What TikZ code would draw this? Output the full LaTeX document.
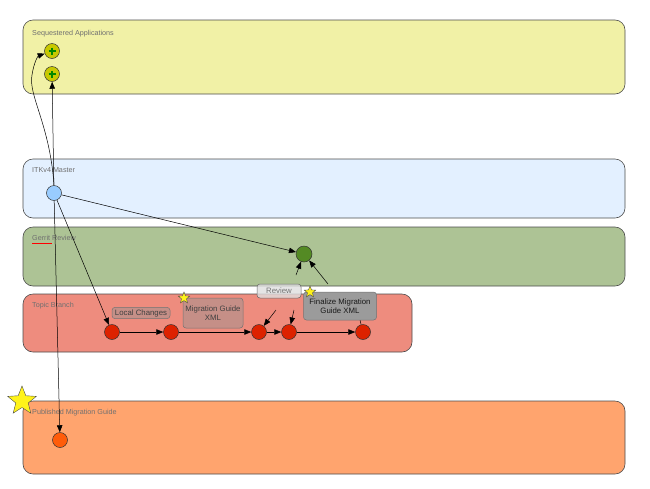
\documentclass[tikz,border=0pt]{standalone}
\usepackage{fontspec}
\setmainfont{Liberation Sans}
\usetikzlibrary{arrows.meta,shapes.geometric}

\definecolor{seqfill}{HTML}{F1F1A6}
\definecolor{masterfill}{HTML}{E3F0FF}
\definecolor{gerritfill}{HTML}{ADC395}
\definecolor{topicfill}{HTML}{EE8C7E}
\definecolor{pubfill}{HTML}{FFA46E}
\definecolor{lanetext}{HTML}{707070}
\definecolor{plusfill}{HTML}{C8C800}
\definecolor{plusgreen}{HTML}{008800}
\definecolor{masterdot}{HTML}{99CCFF}
\definecolor{gerritdot}{HTML}{548A24}
\definecolor{topicdot}{HTML}{DD2200}
\definecolor{pubdot}{HTML}{FF5C0A}
\definecolor{notefill}{HTML}{C58F87}
\definecolor{finalfill}{HTML}{9B9B9B}

\tikzset{
  lane/.style={draw=black!70,rounded corners=10pt,line width=0.6pt},
  lanelabel/.style={anchor=base west,text=lanetext,font=\fontsize{7.2}{8}\selectfont,inner sep=0pt},
  commit/.style={circle,draw=black!80,line width=0.5pt,minimum size=15pt,inner sep=0pt},
  note/.style={draw=black!55,rounded corners=3pt,line width=0.5pt,align=center,
    font=\fontsize{7.8}{9}\selectfont,inner sep=2pt,text=black!75},
  flow/.style={->,line width=0.5pt},
  hint/.style={fill=yellow!90!white,draw=black!70,line width=0.4pt,star,star points=5,star point ratio=2.3,inner sep=0pt}
}

\begin{document}
\begin{tikzpicture}[x=1pt,y=-1pt,>={Triangle[length=7pt,width=5.5pt]}]
\useasboundingbox (0,0) rectangle (650,488);
% lanes
\draw[lane,fill=seqfill] (23,20) rectangle (625,94);
\draw[lane,fill=masterfill] (23,159) rectangle (625,218);
\draw[lane,fill=gerritfill] (23,227) rectangle (625,286);
\draw[lane,fill=topicfill] (23,294) rectangle (412,352);
\draw[lane,fill=pubfill] (23,401) rectangle (625,474);
\node[lanelabel] (seqlbl) at (32,35) {Sequestered Applications};
\node[lanelabel] (masterlbl) at (32,172) {ITKv4 Master};
\node[lanelabel] (gerritlbl) at (32,240) {Gerrit Review};
\draw[red,line width=0.3pt] (32,242.8) -- (52,242.8);
\node[lanelabel] (topiclbl) at (32,307) {Topic Branch};
\node[lanelabel] (publbl) at (32,414) {Published Migration Guide};

% commits
\node[commit,fill=plusfill] (app1) at (52,51) {};
\node[commit,fill=plusfill] (app2) at (52,74) {};
\foreach \p in {app1,app2}
  \draw[plusgreen,line width=1.4pt] (\p.center) ++(-3.5,0) -- ++(7,0) (\p.center) ++(0,-3.5) -- ++(0,7);
\node[commit,fill=masterdot] (master) at (54,193) {};
\node[commit,fill=gerritdot,minimum size=16pt] (gerrit) at (304,254) {};
\node[commit,fill=topicdot] (t1) at (112,332) {};
\node[commit,fill=topicdot] (t2) at (171,332) {};
\node[commit,fill=topicdot] (t3) at (259,332) {};
\node[commit,fill=topicdot] (t4) at (289,332) {};
\node[commit,fill=topicdot] (t5) at (363,332) {};
\node[commit,fill=pubdot] (pub) at (60,440) {};

% notes
\node[note,fill=notefill,minimum width=58pt] (local) at (141,313) {Local Changes};
\node[note,fill=notefill,minimum width=60pt,minimum height=30pt] (migxml) at (213,313) {Migration Guide\\XML};
\node[note,fill=gray!25,fill opacity=0.8,text opacity=1,text=black!55,draw=black!60,minimum width=44pt,minimum height=14pt] (review) at (279,291) {Review};
\node[note,fill=finalfill,text=black!90,minimum width=73pt,minimum height=28pt] (final) at (340,306) {Finalize Migration\\Guide XML};
\node[hint,minimum size=12pt] (star1) at (184,298) {};
\node[hint,minimum size=12pt] (star2) at (310,292) {};
\node[hint,minimum size=30pt] (star3) at (22,401) {};

% connectors
\draw[flow] (master) -- (app2);
\draw[flow] (master.north) .. controls (50,125) and (28,95) .. (32,75) .. controls (34,62) and (38,56) .. (app1);
\draw[flow] (master) -- (gerrit);
\draw[flow] (master) -- (t1);
\draw[flow] (master) -- (pub);
\draw[flow] (t1) -- (t2);
\draw[flow] (t2) -- (t3);
\draw[flow] (t3) -- (t4);
\draw[flow] (t4) -- (t5);
\coordinate (r1) at (276,310);
\coordinate (r2) at (294,310);
\coordinate (g1) at (296,275);
\coordinate (g2) at (328,284);
\draw[flow] (r1) -- (t3);
\draw[flow] (r2) -- (t4);
\draw[flow] (g1) -- (gerrit);
\draw[flow] (g2) -- (gerrit);
\draw[line width=0.5pt] (final.south) ++(20,0) -- (t5);
\end{tikzpicture}
\end{document}
